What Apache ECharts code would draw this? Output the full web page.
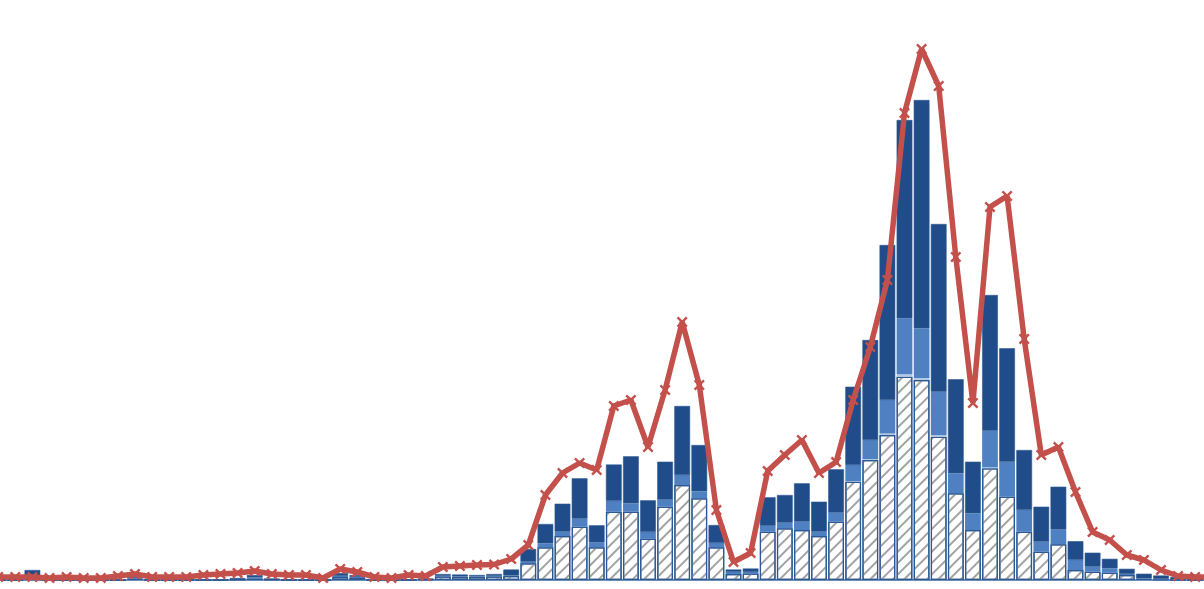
<!DOCTYPE html>
<html>
<head>
<meta charset="utf-8">
<script src="https://cdn.jsdelivr.net/npm/echarts@6/dist/echarts.min.js"></script>
<style>
html,body{margin:0;padding:0;background:#fff;}
#chart{width:1204px;height:589px;}
</style>
</head>
<body>
<div id="chart"></div>
<script>
// categories (periods), index -1 .. 70
var categories = [];
for (var k = 0; k < 72; k++) { categories.push(String(k)); }

var hatchedValues = [0,0,3,0,0,0,0,0,1,0,0,0,0,0,0.5,1.5,0.5,0,0,0,3,2,0,0,0,0.5,3.5,3,3,3.5,4,16.7,32.7,44,53.3,32.7,68.3,68.3,41.2,73.3,95,81.7,32.7,6,6.5,48.3,51.7,50,44,58.3,98.3,120,145,203.3,200,143.3,86.7,50,111.7,83.3,48.3,28.3,35.8,10,8.3,7.3,5,1,0.5,0,0,0];
var lightValues   = [0,0,0,0,0,0,0,0,0,0,0,0,0,0,0,0,0,0,0,0,0,0,0,0,0,0,0,0,0,0,0,0,0,0,0,0,0,0,0,0,0,0,0,0,0,0,0,0,0,0,0.5,1,1.5,2.5,2,1.5,0,0,1,0,0,0,0,0,0,0,0,0,0,0,0,0];
var midValues     = [0,0,1,0,0,0,0,0,0.5,0,0,0,0,0,0,1,0,0,0,0,1,1,0,0,0,0,0.5,0.5,0.5,0.5,0.5,1.6,4,4.3,8,4.8,10.7,8.4,6.8,7,10,7,4.3,2,1.5,5.9,5.6,8.3,4.3,9,16.2,19,33.5,55.9,49.7,43.5,20,16.7,36.6,35,21.7,10,14.6,10,5,4.4,1,0.5,0.5,0.5,0,0];
var darkValues    = [0,0,6,0,0,0,0,0,1.5,0,0,0,0,0,1.5,2.5,1,0,0,0,3,2,0,0,0,1,2,2,1.5,2,6,12.7,19.3,28,40.4,17.2,36.5,47,31.7,38,69,46.3,18,2.5,3.5,28.5,27.7,38.4,30,43.4,78.3,100,155,198.3,228.3,167.7,94,51.6,135.7,113.4,60,35,42.9,18.8,14,9.5,5.2,4.8,3.5,2.5,1,0];
var lineValues    = [3,3,3,2,3,2,2,4,6,3,3,3,5,6,7,9,6,5,5,2,11,8,3,2,5,4,13,14,15,15.5,21,35,85,107,117,110,174,180,133,190,258,195,70,18,27,109,125,140,107,118,180,233,300,467,531,494,323,177,373,384,241,125,133,88,48,40,25,20,10,4,3,3];

var chart = echarts.init(document.getElementById('chart'), null, {renderer: 'canvas'});
var barBorder = '#2c5894';
var xSymbol = 'path://M0,1.5 L1.5,0 L5,3.5 L8.5,0 L10,1.5 L6.5,5 L10,8.5 L8.5,10 L5,6.5 L1.5,10 L0,8.5 L3.5,5 Z';

chart.setOption({
  animation: false,
  backgroundColor: '#ffffff',
  grid: {left: -10.35, width: 1231.2, top: 0, height: 580, containLabel: false, outerBoundsMode: 'none'},
  xAxis: {
    type: 'category',
    data: categories,
    boundaryGap: true,
    axisLine: {show: true, lineStyle: {color: '#3f68a3', width: 1.5}},
    axisTick: {show: false},
    axisLabel: {show: false},
    splitLine: {show: false}
  },
  yAxis: {
    type: 'value',
    min: 0,
    max: 580,
    show: false,
    splitLine: {show: false}
  },
  series: [
    {
      name: 'hatched', type: 'bar', stack: 'a', data: hatchedValues,
      barCategoryGap: '8%',
      itemStyle: {
        color: '#ffffff', borderColor: barBorder, borderWidth: 1.2,
        decal: {symbol: 'rect', color: '#a3a3a3', dashArrayX: [1, 0], dashArrayY: [2, 5.5], rotation: -Math.PI / 4}
      }
    },
    {
      name: 'light', type: 'bar', stack: 'a', data: lightValues,
      itemStyle: {color: '#b4cbe8', borderWidth: 0}
    },
    {
      name: 'mid', type: 'bar', stack: 'a', data: midValues,
      itemStyle: {color: '#4f80c2', borderWidth: 0}
    },
    {
      name: 'dark', type: 'bar', stack: 'a', data: darkValues,
      itemStyle: {color: '#204d8a', borderColor: '#2a5792', borderWidth: 0.6}
    },
    {
      name: 'line', type: 'line', data: lineValues, z: 5,
      symbol: xSymbol, symbolSize: 11, showSymbol: true,
      lineStyle: {color: '#c4504c', width: 5.5},
      itemStyle: {color: '#c4504c'}
    }
  ]
});
</script>
</body>
</html>
